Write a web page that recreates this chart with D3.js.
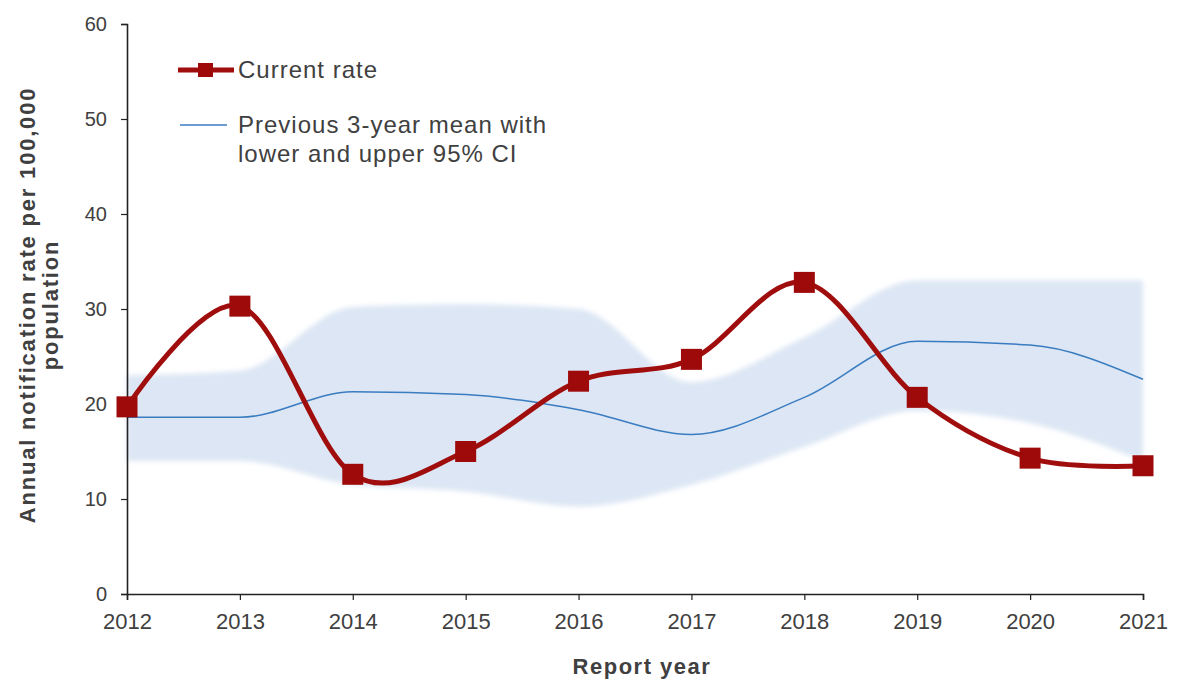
<!DOCTYPE html>
<html>
<head>
<meta charset="utf-8">
<script src="https://cdn.jsdelivr.net/npm/d3@7/dist/d3.min.js"></script>
<style>
  html, body { margin: 0; padding: 0; background: #ffffff; }
  svg { display: block; }
  .tick text { fill: #404040; }
</style>
</head>
<body>
<svg id="chart" width="1199" height="684"></svg>
<script>
// Report years and notification rates per 100,000 population
const years = [2012, 2013, 2014, 2015, 2016, 2017, 2018, 2019, 2020, 2021];
const currentRate = [19.7, 30.3, 12.6, 15.0, 22.4, 24.7, 32.8, 20.7, 14.3, 13.5];
const prevMean   = [18.6, 18.6, 21.3, 21.0, 19.4, 16.8, 20.7, 26.6, 26.2, 22.6];
const lowerCI    = [14.0, 14.0, 11.5, 10.8, 9.2, 11.5, 15.5, 19.3, 18.0, 14.0];
const upperCI    = [23.0, 23.5, 30.2, 30.5, 30.0, 22.3, 27.0, 33.0, 33.0, 33.0];
const yTicks = [0, 10, 20, 30, 40, 50, 60];

const svg = d3.select("#chart");

const x = d3.scalePoint().domain(years).range([127, 1143]);
const y = d3.scaleLinear().domain([0, 60]).range([594, 24]);

const rows = years.map((yr, i) => ({
  year: yr, cur: currentRate[i], mean: prevMean[i], lo: lowerCI[i], hi: upperCI[i]
}));

// Soft edge for the confidence band
const defs = svg.append("defs");
defs.append("filter").attr("id", "soft")
  .attr("x", "-5%").attr("y", "-20%").attr("width", "110%").attr("height", "140%")
  .append("feGaussianBlur").attr("stdDeviation", 2.5);

// 95% CI band
const band = d3.area()
  .x(d => x(d.year))
  .y0(d => y(d.lo))
  .y1(d => y(d.hi))
  .curve(d3.curveMonotoneX);

svg.append("path")
  .datum(rows)
  .attr("d", band)
  .attr("fill", "#dce6f4")
  .attr("filter", "url(#soft)");

// Previous 3-year mean
const meanLine = d3.line()
  .x(d => x(d.year))
  .y(d => y(d.mean))
  .curve(d3.curveMonotoneX);

svg.append("path")
  .datum(rows)
  .attr("d", meanLine)
  .attr("fill", "none")
  .attr("stroke", "#3a7cc0")
  .attr("stroke-width", 1.5);

// Axes
const yAxis = d3.axisLeft(y).tickValues(yTicks).tickSize(6).tickPadding(14);
const gy = svg.append("g").attr("transform", "translate(127,0)").call(yAxis);
gy.select(".domain").attr("stroke", "#222").attr("stroke-width", 1.6);
gy.selectAll(".tick line").attr("stroke", "#222").attr("stroke-width", 1.2);
gy.selectAll(".tick text")
  .attr("font-family", "Liberation Sans, Arial, sans-serif")
  .attr("font-size", 20);

const xAxis = d3.axisBottom(x).tickSize(6).tickPadding(13);
const gx = svg.append("g").attr("transform", "translate(0,594)").call(xAxis);
gx.select(".domain").attr("stroke", "#222").attr("stroke-width", 1.6);
gx.selectAll(".tick line").attr("stroke", "#222").attr("stroke-width", 1.2);
gx.selectAll(".tick text")
  .attr("font-family", "Liberation Sans, Arial, sans-serif")
  .attr("font-size", 22);

// Current rate
const curLine = d3.line()
  .x(d => x(d.year))
  .y(d => y(d.cur))
  .curve(d3.curveCatmullRom.alpha(0));

svg.append("path")
  .datum(rows)
  .attr("d", curLine)
  .attr("fill", "none")
  .attr("stroke", "#a00d0d")
  .attr("stroke-width", 5);

const m = 21;
svg.selectAll("rect.marker")
  .data(rows)
  .join("rect")
  .attr("class", "marker")
  .attr("x", d => x(d.year) - m / 2)
  .attr("y", d => y(d.cur) - m / 2)
  .attr("width", m)
  .attr("height", m)
  .attr("fill", "#9e0a0a");

// Axis titles
svg.append("text")
  .attr("x", 642).attr("y", 674)
  .attr("text-anchor", "middle")
  .attr("font-family", "Liberation Sans, Arial, sans-serif")
  .attr("font-weight", "bold")
  .attr("font-size", 22)
  .attr("letter-spacing", 1.5)
  .attr("fill", "#404040")
  .text("Report year");

const yTitle = svg.append("text")
  .attr("transform", "translate(0,305) rotate(-90)")
  .attr("text-anchor", "middle")
  .attr("font-family", "Liberation Sans, Arial, sans-serif")
  .attr("font-weight", "bold")
  .attr("font-size", 22)
  .attr("letter-spacing", 1.8)
  .attr("fill", "#404040");
yTitle.append("tspan").attr("x", 0).attr("y", 35).text("Annual notification rate per 100,000");
yTitle.append("tspan").attr("x", 0).attr("y", 58).text("population");

// Legend
const lg = svg.append("g").attr("font-family", "Liberation Sans, Arial, sans-serif")
  .attr("font-size", 24).attr("letter-spacing", 1).attr("fill", "#404040");
lg.append("line").attr("x1", 178).attr("x2", 234).attr("y1", 70).attr("y2", 70)
  .attr("stroke", "#a00d0d").attr("stroke-width", 5);
lg.append("rect").attr("x", 198).attr("y", 63).attr("width", 15).attr("height", 14)
  .attr("fill", "#9e0a0a");
lg.append("text").attr("x", 238).attr("y", 78).text("Current rate");

lg.append("line").attr("x1", 180).attr("x2", 227).attr("y1", 125).attr("y2", 125)
  .attr("stroke", "#3a7cc0").attr("stroke-width", 1.5);
const lt = lg.append("text");
lt.append("tspan").attr("x", 238).attr("y", 133).text("Previous 3-year mean with");
lt.append("tspan").attr("x", 238).attr("y", 162).text("lower and upper 95% CI");
</script>
</body>
</html>
